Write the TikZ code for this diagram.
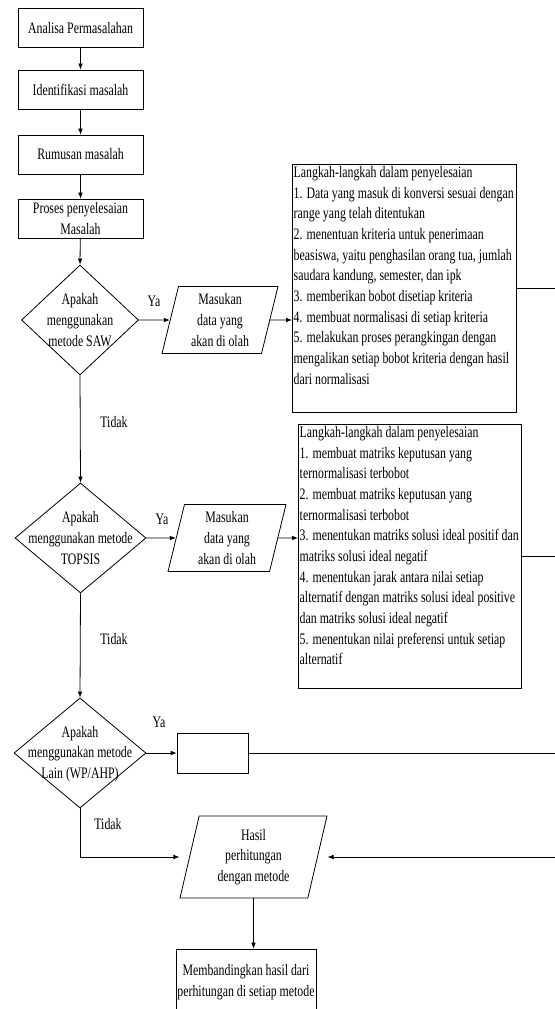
\documentclass[tikz,border=0pt]{standalone}
\usepackage{fontspec}
\setmainfont{Liberation Serif}[FakeStretch=0.74]
\usetikzlibrary{shapes.geometric,arrows.meta}
\begin{document}
\begin{tikzpicture}[x=0.75pt,y=-0.75pt,
  every node/.style={font=\fontsize{12pt}{15.5pt}\selectfont},
  line/.style={line width=0.6pt},
  arr/.style={line width=0.6pt,-{Latex[length=4.5pt,width=3.5pt]}},
  proc/.style={draw,line width=0.6pt,rectangle,align=center,inner sep=0pt,minimum width=93.75pt,minimum height=29.25pt},
  decision/.style={draw,line width=0.6pt,diamond,inner sep=0pt,minimum height=82.5pt},
  dtext/.style={align=center,inner sep=0pt},
  io/.style={draw,line width=0.6pt,trapezium,trapezium stretches body,align=center,inner sep=0pt,
    trapezium left angle=72.6,trapezium right angle=107.4,minimum width=87pt,minimum height=50.25pt},
  stepbox/.style={draw,line width=0.6pt,anchor=north west,inner xsep=1pt,inner ysep=1.5pt},
  lbl/.style={inner sep=0pt}]
\clip (0,0) rectangle (555,1009);
\coordinate (edge) at (555,0);

% process boxes
\node[proc] (b1) at (80.5,28) {Analisa Permasalahan};
\node[proc] (b2) at (80.5,89.5) {Identifikasi masalah};
\node[proc] (b3) at (80.5,154.5) {Rumusan masalah};
\node[proc] (b4) at (80.5,218.5) {Proses penyelesaian\\Masalah};

% decisions
\node[decision,minimum width=87.75pt] (d1) at (80,320) {};
\node[dtext] (d1t) at (80,320) {Apakah\\menggunakan\\metode SAW};
\node[decision,minimum width=98.25pt] (d2) at (80.5,538) {};
\node[dtext] (d2t) at (80.5,538) {Apakah\\menggunakan metode\\TOPSIS};
\node[decision,minimum width=99pt] (d3) at (80,753) {};
\node[dtext] (d3t) at (80,754) {Apakah\\menggunakan metode\\Lain (WP/AHP)};

% input/output
\node[io] (p1) at (220,320) {Masukan\\data yang\\akan di olah};
\node[io,minimum width=88.5pt] (p2) at (227,538) {Masukan\\data yang\\akan di olah};
\node[io,minimum width=110.25pt,minimum height=61.5pt,trapezium left angle=71.1,trapezium right angle=108.9] (p3) at (253.5,857) {Hasil\\perhitungan\\dengan metode};

% empty box
\node[proc,minimum width=53.25pt,minimum height=30pt] (e) at (212.5,753) {};

% final box
\node[proc,minimum width=105pt,minimum height=49.5pt] (b5) at (246,982) {Membandingkan hasil dari\\perhitungan di setiap metode};

% step boxes
\node[stepbox] (saw) at (292,164) {\begin{minipage}[t][183pt][t]{166pt}%
\mbox{Langkah-langkah dalam penyelesaian}\\
\mbox{1. Data yang masuk di konversi sesuai dengan}\\
\mbox{range yang telah ditentukan}\\
\mbox{2. menentuan kriteria untuk penerimaan}\\
\mbox{beasiswa, yaitu penghasilan orang tua, jumlah}\\
\mbox{saudara kandung, semester, dan ipk}\\
\mbox{3. memberikan bobot disetiap kriteria}\\
\mbox{4. membuat normalisasi di setiap kriteria}\\
\mbox{5. melakukan proses perangkingan dengan}\\
\mbox{mengalikan setiap bobot kriteria dengan hasil}\\
\mbox{dari normalisasi}\end{minipage}};

\node[stepbox] (topsis) at (298,424) {\begin{minipage}[t][195pt][t]{165.25pt}%
\mbox{Langkah-langkah dalam penyelesaian}\\
\mbox{1. membuat matriks keputusan yang}\\
\mbox{ternormalisasi terbobot}\\
\mbox{2. membuat matriks keputusan yang}\\
\mbox{ternormalisasi terbobot}\\
\mbox{3. menentukan matriks solusi ideal positif dan}\\
\mbox{matriks solusi ideal negatif}\\
\mbox{4. menentukan jarak antara nilai setiap}\\
\mbox{alternatif dengan matriks solusi ideal positive}\\
\mbox{dan matriks solusi ideal negatif}\\
\mbox{5. menentukan nilai preferensi untuk setiap}\\
\mbox{alternatif}\end{minipage}};

% labels
\node[lbl] (ya1) at (154,301) {Ya};
\node[lbl] (ya2) at (162,519) {Ya};
\node[lbl] (ya3) at (159,722) {Ya};
\node[lbl] (t1) at (114,422) {Tidak};
\node[lbl] (t2) at (114,639) {Tidak};
\node[lbl] (t3) at (108,824) {Tidak};

% connectors
\draw[arr] (b1) -- (b2);
\draw[arr] (b2) -- (b3);
\draw[arr] (b3) -- (b4);
\draw[arr] (b4) -- (d1.north);
\draw[arr] (d1.east) -- (p1);
\draw[arr] (p1) -- (p1 -| saw.west);
\draw[line] (saw.east) -- (saw.east -| edge);
\draw[arr] (d1.south) -- (d2.north);
\draw[arr] (d2.east) -- (p2);
\draw[arr] (p2) -- (p2 -| topsis.west);
\draw[line] (topsis.east) -- (topsis.east -| edge);
\draw[arr] (d2.south) -- (d3.north);
\draw[arr] (d3.east) -- (e.west);
\draw[line] (e.east) -- (e.east -| edge);
\draw[arr] (d3.south) |- (p3.bottom left corner |- p3.center);
\draw[arr] (p3.center -| edge) -- (p3.top right corner |- p3.center);
\draw[arr] (p3.center |- p3.bottom left corner) -- (p3.center |- b5.north);
\end{tikzpicture}
\end{document}
